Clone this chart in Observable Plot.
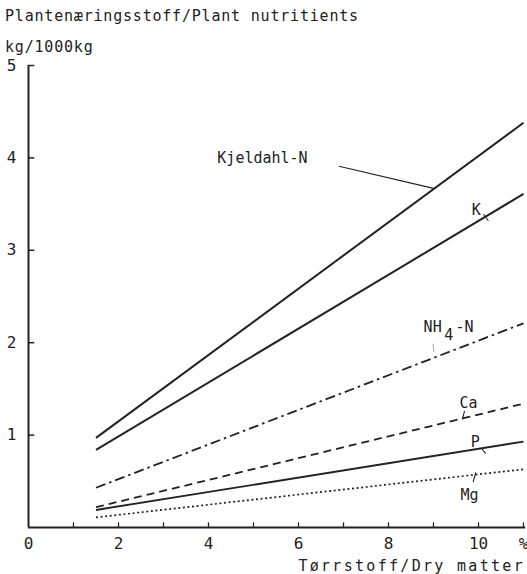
<!DOCTYPE html>
<html>
<head>
<meta charset="utf-8">
<script src="https://cdn.jsdelivr.net/npm/d3@7"></script>
<script src="https://cdn.jsdelivr.net/npm/@observablehq/plot@0.6"></script>
<style>
  html, body { margin: 0; padding: 0; background: #fff; }
  #wrap { position: relative; width: 527px; height: 574px; overflow: hidden; }
  #wrap svg { position: absolute; left: 0; top: 0; }
  .t { position: absolute; font-family: "DejaVu Sans Mono", monospace; color: #222; white-space: nowrap; }
</style>
</head>
<body>
<div id="wrap">
  <div class="t" id="t1" style="left:5px; top:7px; font-size:15px; letter-spacing:0.8px;"></div>
  <div class="t" id="t2" style="left:5px; top:38px; font-size:15px; letter-spacing:0.8px;"></div>
  <div class="t" id="t3" style="right:2px; top:557px; font-size:15px; letter-spacing:2.3px;"></div>
</div>
<script>
const titleText = "Plantenæringsstoff/Plant nutritients";
const unitText = "kg/1000kg";
const xTitle = "Tørrstoff/Dry matter";

// Dry matter (%) range of each line
const xStart = 1.5;
const xEnd = 11;

// Series names, start and end values (kg/1000kg)
const series = ["Kjeldahl-N", "K", "NH4-N", "Ca", "P", "Mg"];
const startValues = [0.97, 0.84, 0.43, 0.22, 0.19, 0.11];
const endValues = [4.38, 3.61, 2.21, 1.34, 0.93, 0.63];

// Tick labels
const yTicks = [1, 2, 3, 4, 5];
const xTickValues = [0, 2, 4, 6, 8, 10, 11];
const xTickLabels = ["0", "2", "4", "6", "8", "10", "%"];
const xMinorTicks = [1, 2, 3, 4, 5, 6, 7, 8, 9, 10, 11];

// Label texts and positions (data units), centered
const labelNames = ["Kjeldahl-N", "K", "Ca", "P", "Mg"];
const labelX = [5.2, 9.95, 9.78, 9.93, 9.8];
const labelY = [4.0, 3.43, 1.34, 0.92, 0.35];
// NH4-N label split in parts (subscript 4 lowered), start-anchored
const nhParts = ["NH", "4", "-N"];
const nhX = [8.78, 9.24, 9.49];
const nhY = [2.17, 2.08, 2.17];

// leader lines [x1, y1, x2, y2]
const leaders = [
  [6.9, 3.91, 9.0, 3.67],
  [10.11, 3.39, 10.22, 3.32],
  [9.69, 1.26, 9.64, 1.17],
  [10.07, 0.855, 10.16, 0.80],
  [9.94, 0.595, 9.88, 0.49]
];
const faintLeader = [[8.99, 1.99, 9.01, 1.90]];

const styles = {
  "Kjeldahl-N": {dash: null, w: 2.0},
  "K": {dash: null, w: 2.0},
  "NH4-N": {dash: "10,4,2.5,4", w: 1.8},
  "Ca": {dash: "8,5", w: 1.8},
  "P": {dash: null, w: 1.9},
  "Mg": {dash: "2,2.6", w: 1.7}
};

const lineData = series.map((s, i) => ([
  {s, x: xStart, y: startValues[i]},
  {s, x: xEnd, y: endValues[i]}
]));

document.getElementById("t1").textContent = titleText;
document.getElementById("t2").textContent = unitText;
document.getElementById("t3").textContent = xTitle;

const ink = "#222";
const font = "DejaVu Sans Mono";
const marks = [];
// axes lines
marks.push(Plot.ruleX([0], {y1: 0, y2: 5, stroke: ink, strokeWidth: 2}));
marks.push(Plot.ruleY([0], {x1: 0, x2: 11.05, stroke: ink, strokeWidth: 1.8}));
// inward ticks
marks.push(Plot.ruleY(yTicks, {x1: 0, x2: 0.14, stroke: ink, strokeWidth: 1.5}));
marks.push(Plot.ruleX(xMinorTicks, {y1: 0, y2: 0.05, stroke: ink, strokeWidth: 1.3}));
// tick labels
marks.push(Plot.text(yTicks, {x: 0, y: d => d, text: d => String(d), dx: -17, fontSize: 16, fontFamily: font, fill: ink}));
marks.push(Plot.text(xTickValues, {x: d => d, y: 0, text: (d, i) => xTickLabels[i], dy: 16, fontSize: 16, fontFamily: font, fill: ink}));
// series lines
lineData.forEach((pts) => {
  const st = styles[pts[0].s];
  marks.push(Plot.line(pts, {x: "x", y: "y", stroke: ink, strokeWidth: st.w, strokeDasharray: st.dash, strokeLinecap: "butt"}));
});
// leaders
marks.push(Plot.link(leaders, {x1: d => d[0], y1: d => d[1], x2: d => d[2], y2: d => d[3], stroke: ink, strokeWidth: 1.1}));
marks.push(Plot.link(faintLeader, {x1: d => d[0], y1: d => d[1], x2: d => d[2], y2: d => d[3], stroke: "#aaa", strokeWidth: 1}));
// series labels
marks.push(Plot.text(labelNames, {x: (d, i) => labelX[i], y: (d, i) => labelY[i], text: d => d, fontSize: 15, fontFamily: font, fill: ink, style: {letterSpacing: "2px"}}));
marks.push(Plot.text(nhParts, {x: (d, i) => nhX[i], y: (d, i) => nhY[i], text: d => d, textAnchor: "start", fontSize: 15, fontFamily: font, fill: ink, style: {letterSpacing: "2px"}}));

const chart = Plot.plot({
  width: 527,
  height: 574,
  marginLeft: 28,
  marginRight: 4,
  marginTop: 65,
  marginBottom: 47,
  x: {domain: [0, 11], axis: null},
  y: {domain: [0, 5], axis: null},
  style: {background: "transparent", overflow: "visible"},
  marks
});
document.getElementById("wrap").appendChild(chart);
</script>
</body>
</html>
